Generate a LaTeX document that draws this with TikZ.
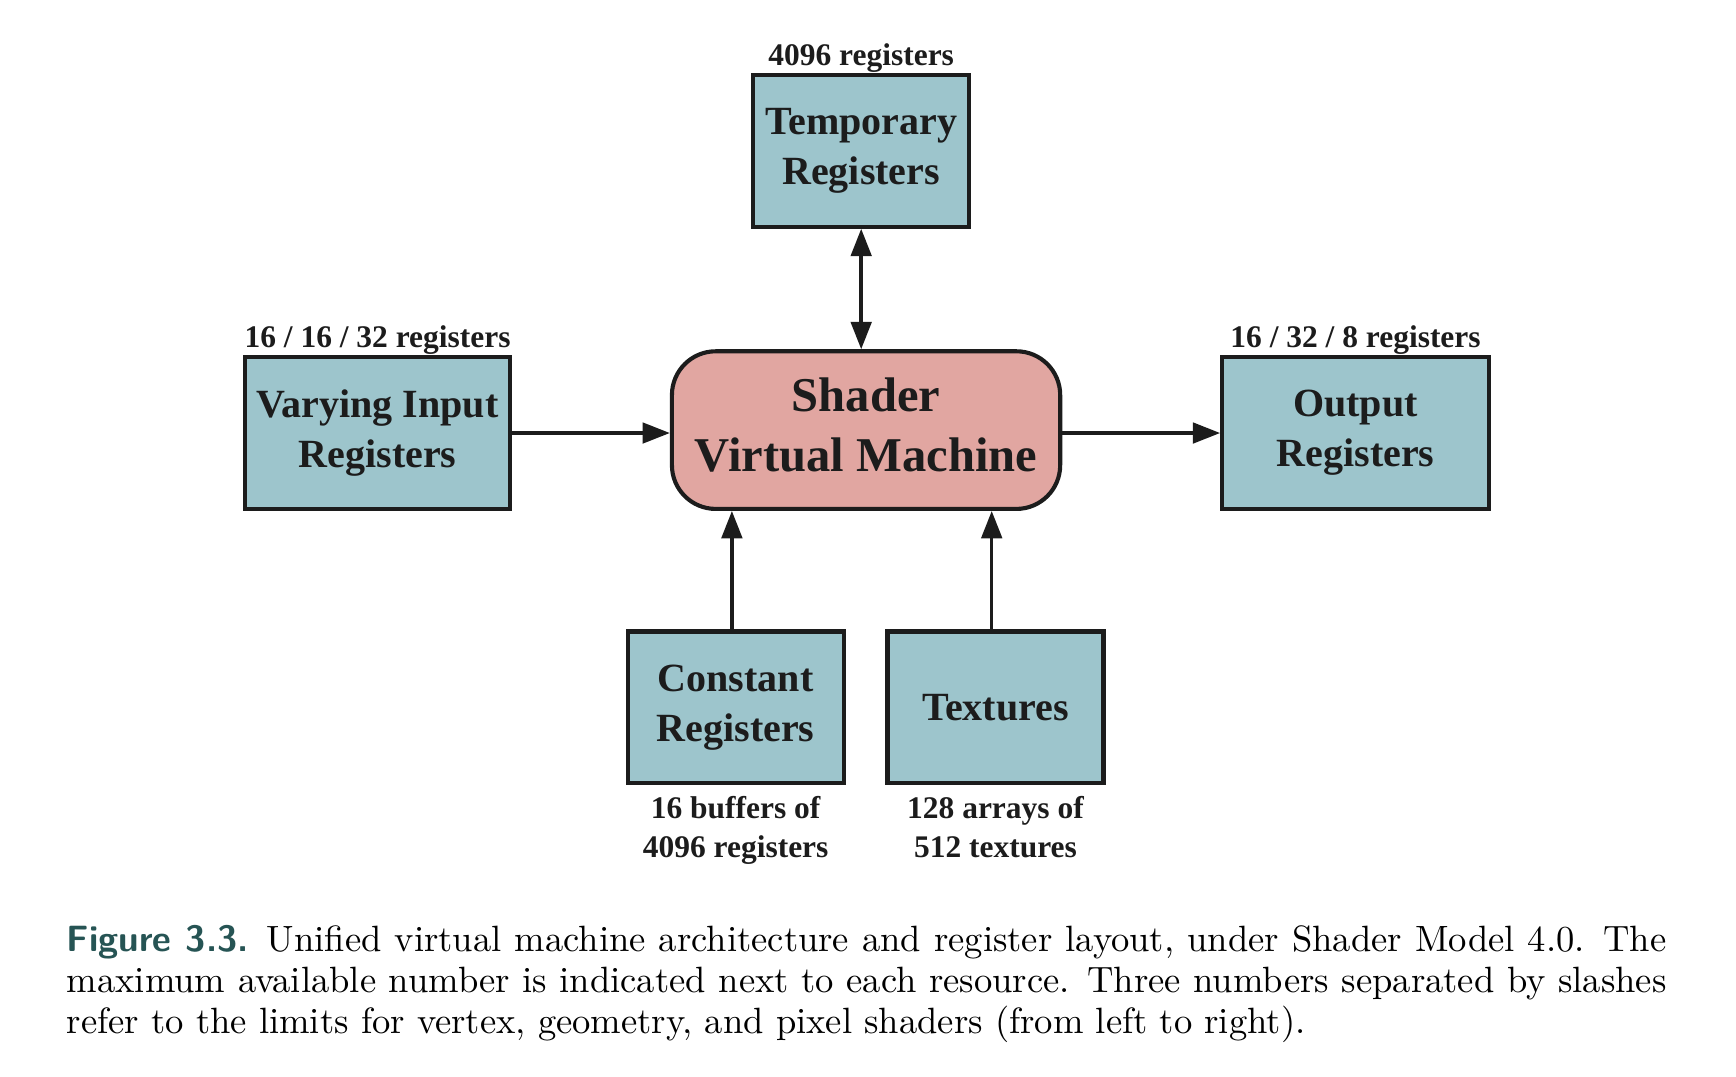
\documentclass[tikz,border=0pt]{standalone}
\usepackage{fontspec}
\usepackage{xcolor}
\usepackage{tikz}
\usetikzlibrary{arrows.meta,positioning}
\newfontfamily\boxfont{Liberation Serif}
\definecolor{regfill}{RGB}{157,197,204}
\definecolor{vmfill}{RGB}{225,166,161}
\definecolor{capteal}{RGB}{38,84,84}
\definecolor{inkdark}{RGB}{28,28,28}
\tikzset{
  reg-box/.style={draw=inkdark, fill=regfill, line width=1.2pt, align=center, text=inkdark,
    font=\boxfont\bfseries\fontsize{11.7}{14.6}\selectfont,
    minimum width=2.22cm, minimum height=1.56cm, inner sep=2pt},
  vm-box/.style={draw=inkdark, fill=vmfill, rounded corners=0.45cm, line width=1.2pt,
    align=center, text=inkdark, font=\boxfont\bfseries\fontsize{14.2}{17.8}\selectfont,
    minimum width=3.99cm, minimum height=1.62cm},
  reg-label/.style={font=\boxfont\bfseries\fontsize{9.2}{11.3}\selectfont, align=center,
    inner sep=0pt, text=inkdark},
  flow/.style={line width=1pt, draw=inkdark, -{Triangle[length=8pt,width=6pt]}}
}

\begin{document}
\begin{tikzpicture}[x=1cm, y=1cm]
  \useasboundingbox (0,0) rectangle (17.84,-11.06);

  % Register boxes round the machine
  \node[vm-box] (vm) at (8.90,-4.42) {Shader\\Virtual Machine\rule[-3.2pt]{0pt}{3.2pt}};
  \node[reg-box] (temp) at (8.85,-1.55) {Temporary\\Registers};
  \node[reg-box, minimum width=2.73cm] (varying) at (3.88,-4.45) {Varying Input\\Registers};
  \node[reg-box, minimum width=2.74cm] (output) at (13.93,-4.45) {Output\\Registers};
  \node[reg-box] (const) at (7.56,-7.27) {Constant\\Registers};
  \node[reg-box] (tex) at (10.23,-7.27) {Textures};

  % Limits
  \node[reg-label, above=0pt of temp] (temp-lbl) {4096 registers};
  \node[reg-label, above=0pt of varying] (varying-lbl) {16 / 16 / 32 registers};
  \node[reg-label, above=0pt of output] (output-lbl) {16 / 32 / 8 registers};
  \node[reg-label, below=3pt of const] (const-lbl) {16 buffers of\\4096 registers};
  \node[reg-label, below=3pt of tex] (tex-lbl) {128 arrays of\\512 textures};

  \draw[flow, {Triangle[length=8pt,width=6pt]}-{Triangle[length=8pt,width=6pt]}]
    (temp.south) -- (temp.south |- vm.north);
  \draw[flow] (varying.east) -- (varying.east -| vm.west);
  \draw[flow] (vm.east |- output.west) -- (output.west);
  \draw[flow] ([xshift=-1.1pt]const.north) -- ([xshift=-1.1pt]const.north |- vm.south);
  \draw[flow] ([xshift=-1.1pt]tex.north) -- ([xshift=-1.1pt]tex.north |- vm.south);

  % Caption
  \node[anchor=north west, inner sep=0pt, text width=16.44cm, align=justify,
    font=\fontsize{10.7}{12}\selectfont] (caption) at (0.68,-9.50)
    {\textcolor{capteal}{\sffamily\bfseries Figure 3.3.}\enskip Unified virtual machine architecture and register layout, under Shader Model 4.0. The\linebreak
     maximum available number is indicated next to each resource. Three numbers separated by slashes\linebreak
     refer to the limits for vertex, geometry, and pixel shaders (from left to right).};
\end{tikzpicture}
\end{document}
